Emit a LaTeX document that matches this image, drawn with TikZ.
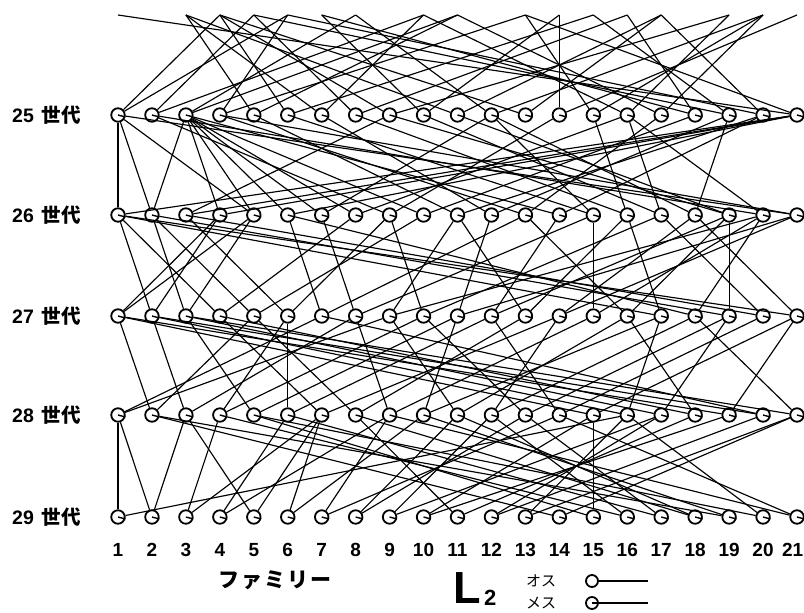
\documentclass[tikz,border=0pt]{standalone}
\usepackage{fontspec}
\setmainfont{Liberation Sans}
\newfontfamily\cjk{Noto Sans CJK JP}
\begin{document}
\begin{tikzpicture}[x=1pt,y=-1pt,
  fam/.style={circle,draw,line width=1.8pt,minimum size=13.5pt,inner sep=0pt,fill=white},
  link/.style={line width=1.15pt},
  rowlab/.style={anchor=west,font=\bfseries\fontsize{19.5}{19.5}\selectfont,inner sep=0pt},
  collab/.style={font=\bfseries\fontsize{19}{19}\selectfont,inner sep=0pt}]
\useasboundingbox (0,0) rectangle (804,613);
% nodes
\foreach \r/\y in {25/115,26/215,27/316,28/415,29/517}{
  \foreach \c in {1,...,21}{
    \node[fam] (n\r-\c) at ({118+33.95*(\c-1)},\y) {};
    \draw[line width=1.4pt] (n\r-\c.center) -- (n\r-\c.-15);
  }
  \node[rowlab] (lab\r) at (12,\y) {\r\hspace{8pt}{\cjk\bfseries 世代}};
}
\foreach \c in {1,...,20}{
  \node[collab] (col\c) at ({118+33.95*(\c-1)},550) {\c};
}
\node[collab,anchor=east] (col21) at (803.5,550) {21};
\foreach \c in {1,...,21}{
  \coordinate (n24-\c) at ({118+33.95*(\c-1)},15);
}
% gap 24 -> 25
\foreach \c/\a/\b in {1/4/6,2/5/10,3/8/11,4/6/13,5/3/11,6/4/15,7/10/3,8/5/16,9/4/19,10/14/7,11/17/3,12/20/8,13/17/4,14/14/21,15/13/20,16/10/19,17/11/20,18/16/7,19/15/5,20/17/6,21/1/13}{
  \draw[link] (n25-\c) -- (n24-\a);
  \draw[link] (n25-\c) -- (n24-\b);
}
% gap 25 -> 26
\foreach \c/\a/\b in {1/1/21,2/1/3,3/21/9,4/3/21,5/1/3,6/3/21,7/3/12,8/3/16,9/2/14,10/3/18,11/5/20,12/7/19,13/4/17,14/3/20,15/6/12,16/8/15,17/10/16,18/12/19,19/11/9,20/16/2,21/1/4}{
  \draw[link] (n26-\c) -- (n25-\a);
  \draw[link] (n26-\c) -- (n25-\b);
}
% gap 26 -> 27
\foreach \c/\a/\b in {1/4/5,2/4/1,3/5/2,4/1/8,5/2/10,6/3/9,7/6/13,8/7/15,9/11/20,10/9/17,11/12/21,12/14/19,13/11/16,14/18/21,15/15/20,16/13/19,17/1/16,18/6/20,19/2/19,20/3/17,21/1/18}{
  \draw[link] (n27-\c) -- (n26-\a);
  \draw[link] (n27-\c) -- (n26-\b);
}
% gap 27 -> 28
\foreach \c/\a/\b in {1/7/9,2/5/1,3/2/8,4/6/10,5/3/11,6/6/12,7/4/14,8/13/5,9/15/8,10/17/11,11/16/9,12/18/14,13/19/10,14/20/12,15/1/21,16/2/17,17/3/19,18/16/4,19/1/21,20/7/2,21/18/3}{
  \draw[link] (n28-\c) -- (n27-\a);
  \draw[link] (n28-\c) -- (n27-\b);
}
% gap 28 -> 29
\foreach \c/\a/\b in {1/1/16,2/1/3,3/4/7,4/6/9,5/3/7,6/7/10,7/9/14,8/11/13,9/12/17,10/15/19,11/8/18,12/17/20,13/16/21,14/2/21,15/15/5,16/4/12,17/6/13,18/8/11,19/10/2,20/16/5,21/14/9}{
  \draw[link] (n29-\c) -- (n28-\a);
  \draw[link] (n29-\c) -- (n28-\b);
}
% bottom texts
\node[inner sep=0pt,font=\cjk\bfseries\fontsize{21}{21}\selectfont] (fam) at (275,580) {フ\hspace{2pt}ァ\hspace{2pt}ミ\hspace{2pt}リ\hspace{2pt}ー};
\node[inner sep=0pt,anchor=base west,font=\bfseries\fontsize{45}{45}\selectfont] (L) at (453,603) {L};
\node[inner sep=0pt,anchor=base west,font=\bfseries\fontsize{22}{22}\selectfont] (L2) at (484,605) {2};
\node[inner sep=0pt,font=\cjk\fontsize{15}{15}\selectfont] (osu) at (541,581) {オス};
\node[inner sep=0pt,font=\cjk\fontsize{15}{15}\selectfont] (mesu) at (541,603) {メス};
\node[fam,minimum size=12pt] (male) at (592,581) {};
\coordinate (maleend) at (648,581);
\draw[link] (male) -- (maleend);
\node[fam,minimum size=12pt] (female) at (592,603) {};
\coordinate (femaleend) at (648,603);
\draw[link] (female.center) -- (femaleend);
\end{tikzpicture}
\end{document}
